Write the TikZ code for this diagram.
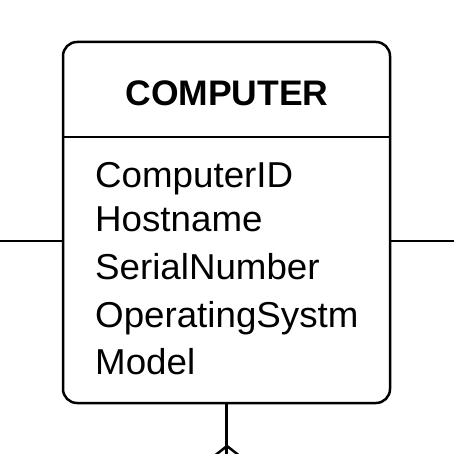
\documentclass[tikz,border=0pt]{standalone}
\usepackage{fontspec}
\setmainfont{Liberation Sans}
\newfontfamily\attrfont[FakeStretch=1.02]{Liberation Sans}
\tikzset{
  entitybox/.style = {draw, line width=2.5pt, rounded corners=14pt, minimum width=327pt, minimum height=361pt, inner sep=0pt},
  attr/.style = {anchor=base west, inner sep=0pt, font=\attrfont\fontsize{36}{40}\selectfont},
  link/.style = {line width=2.5pt}
}
\begin{document}
\begin{tikzpicture}[x=1pt, y=-1pt]
\useasboundingbox (0,0) rectangle (454,454);
\clip (0,0) rectangle (454,454);
\node [entitybox] (computer) at (226.5,222.5) {};
\node [anchor=base, inner sep=0pt, font=\bfseries\fontsize{35.5}{40}\selectfont] (title) at (227,106) {COMPUTER};
\coordinate (divl) at (63,137);
\draw [line width=2pt] (divl) -- (divl -| computer.east);
% attributes
\node [attr] (cid) at (95,188) {ComputerID};
\node [attr] (host) at (95,231) {Hostname};
\node [attr] (serial) at (95,279) {SerialNumber};
\node [attr] (os) at (95,327) {OperatingSystm};
\node [attr] (model) at (95,374) {Model};
% relationships
\coordinate (leftend) at (0,241);
\coordinate (rightend) at (454,241);
\coordinate (bottomend) at (227,456);
\coordinate (fork) at (227,446);
\draw [link] (leftend) -- (leftend -| computer.west);
\draw [link] (rightend) -- (rightend -| computer.east);
\draw [link] (bottomend -| computer.south) -- (computer.south);
\draw [link] (fork) -- (213,457);
\draw [link] (fork) -- (241,457);
\end{tikzpicture}
\end{document}
